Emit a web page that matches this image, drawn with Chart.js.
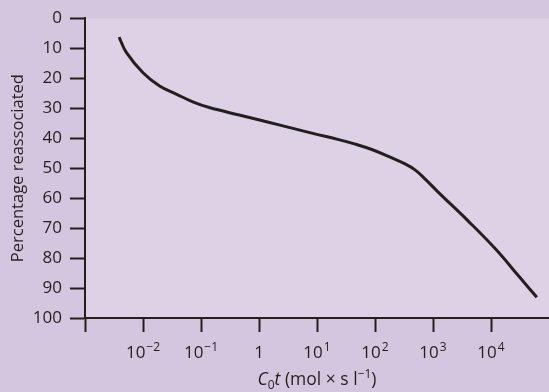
<!DOCTYPE html>
<html>
<head>
<meta charset="utf-8">
<script src="https://cdn.jsdelivr.net/npm/chart.js@4"></script>
<style>
  html, body { margin: 0; padding: 0; background: #d3c6df; }
  canvas { display: block; }
</style>
</head>
<body>
<canvas id="chart" width="549" height="392"></canvas>
<script>
// C0t values (mol x s / l)
const cotValues = [0.00387, 0.00519, 0.01, 0.0193, 0.0374, 0.0721, 0.139, 0.456, 2.69, 8.81, 23.7, 45.7, 88.1, 171, 330, 490, 726, 1227, 4018, 12000, 30000, 61660]
// percentage reassociated at each C0t
const percentReassociated = [6.3, 11.5, 18.2, 22.6, 25.3, 27.9, 29.8, 32.3, 36.0, 38.5, 40.5, 42.0, 43.8, 46.1, 48.6, 50.6, 53.6, 58.0, 67.6, 77.0, 86.0, 93.1]

const xTickValues = [0.001, 0.01, 0.1, 1, 10, 100, 1000, 10000]
// [base, exponent] - empty exponent means plain label, null means no label
const xTickLabels = [null, ['10', '\u22122'], ['10', '\u22121'], ['1', ''], ['10', '1'], ['10', '2'], ['10', '3'], ['10', '4']]

const FONT = "'Open Sans', 'Noto Sans', sans-serif"
const INK = '#231f20'

const plotBackground = {
  id: 'plotBackground',
  beforeDraw(chart) {
    const { ctx, chartArea } = chart
    ctx.save()
    ctx.fillStyle = '#dcd1e5'
    ctx.fillRect(chartArea.left, chartArea.top, chartArea.right - chartArea.left, chartArea.bottom - chartArea.top)
    ctx.restore()
  },
}

// x tick labels with real superscripts, and the x axis title
const xAxisText = {
  id: 'xAxisText',
  afterDraw(chart) {
    const { ctx } = chart
    const xs = chart.scales.x
    ctx.save()
    ctx.fillStyle = INK
    ctx.textBaseline = 'alphabetic'
    ctx.textAlign = 'left'

    xTickValues.forEach((v, i) => {
      const lab = xTickLabels[i]
      if (!lab) return
      const px = xs.getPixelForValue(v)
      ctx.font = '17px ' + FONT
      const w1 = ctx.measureText(lab[0]).width
      ctx.font = '12px ' + FONT
      const w2 = lab[1] ? ctx.measureText(lab[1]).width + 1 : 0
      const x0 = px - (w1 + w2) / 2
      ctx.font = '17px ' + FONT
      ctx.fillText(lab[0], x0, 357.5)
      if (lab[1]) {
        ctx.font = '12px ' + FONT
        ctx.fillText(lab[1], x0 + w1 + 1, 351)
      }
    })

    const parts = [
      { t: 'C', f: 'italic 17.5px ', dy: 0 },
      { t: '0', f: '12px ', dy: 4 },
      { t: 't', f: 'italic 17.5px ', dy: 0 },
      { t: ' (mol \u00d7 s l', f: '17.5px ', dy: 0 },
      { t: '\u22121', f: '12px ', dy: -7 },
      { t: ')', f: '17.5px ', dy: 0 },
    ]
    let total = 0
    parts.forEach((p) => {
      ctx.font = p.f + FONT
      p.w = ctx.measureText(p.t).width
      total += p.w
    })
    let x = (chart.chartArea.left + chart.chartArea.right) / 2 - total / 2
    parts.forEach((p) => {
      ctx.font = p.f + FONT
      ctx.fillText(p.t, x, 385 + p.dy)
      x += p.w
    })
    ctx.restore()
  },
}

const data = {
  datasets: [
    {
      data: cotValues.map((c, i) => ({ x: c, y: percentReassociated[i] })),
      showLine: true,
      borderColor: '#231f20',
      borderWidth: 3,
      pointRadius: 0,
      tension: 0.4,
      borderCapStyle: 'butt',
    },
  ],
}

const options = {
  responsive: false,
  animation: false,
  layout: { padding: { top: 17, right: 0, bottom: 0, left: 0 } },
  plugins: {
    legend: { display: false },
    tooltip: { enabled: false },
  },
  scales: {
    x: {
      type: 'logarithmic',
      min: 0.001,
      max: 100000,
      afterBuildTicks: (scale) => {
        scale.ticks = xTickValues.map((v) => ({ value: v }))
      },
      afterFit: (scale) => {
        scale.height = 74
      },
      ticks: { display: false },
      grid: { drawOnChartArea: false, tickLength: 14, tickWidth: 2, color: INK },
      border: { color: INK, width: 2 },
    },
    y: {
      reverse: true,
      min: 0,
      max: 100,
      afterFit: (scale) => {
        scale.width = 85
      },
      ticks: { stepSize: 10, padding: 8, color: INK, font: { family: FONT, size: 17 } },
      grid: { drawOnChartArea: false, tickLength: 15, tickWidth: 2, color: INK },
      border: { color: INK, width: 2 },
      title: {
        display: true,
        text: 'Percentage reassociated',
        color: INK,
        font: { family: FONT, size: 16.5 },
        padding: { top: 8, bottom: 0 },
      },
    },
  },
}

new Chart(document.getElementById('chart'), { type: 'scatter', data, options, plugins: [plotBackground, xAxisText] })
</script>
</body>
</html>
